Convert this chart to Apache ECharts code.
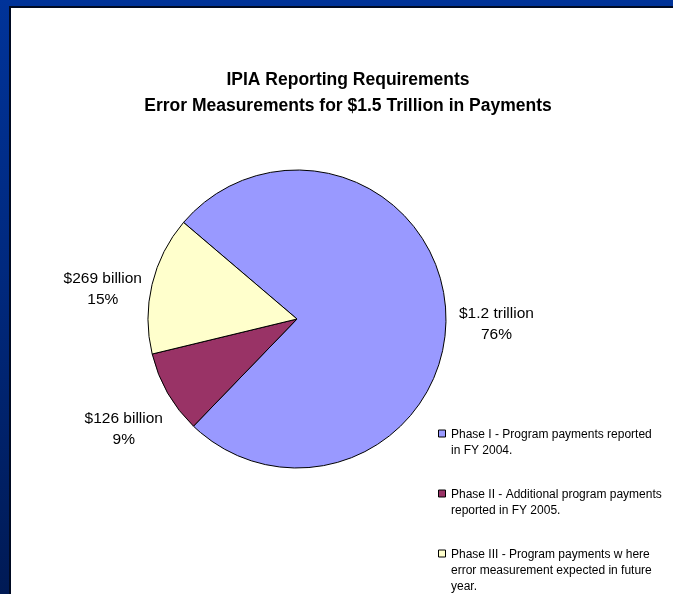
<!DOCTYPE html>
<html>
<head>
<meta charset="utf-8">
<script src="https://cdn.jsdelivr.net/npm/echarts@6/dist/echarts.min.js"></script>
<style>
  html, body { margin: 0; padding: 0; width: 673px; height: 594px; overflow: hidden; }
  body { background: linear-gradient(to bottom, #003399 0%, #00297f 45%, #001a55 100%); position: relative; }
  #panel { position: absolute; left: 9px; top: 6px; width: 662px; height: 588px; background: #ffffff;
           border-left: 2px solid #000a22; border-top: 2px solid #000a22; }
  #chart { position: absolute; left: 0; top: 0; width: 673px; height: 594px; }
</style>
</head>
<body>
<div id="panel"></div>
<div id="chart"></div>
<script>
// ---- data ----
var titleLines = ['IPIA Reporting Requirements', 'Error Measurements for $1.5 Trillion in Payments'];
var categories = [
  'Phase I - Program payments reported\nin FY 2004.',
  'Phase II - Additional program payments\nreported in FY 2005.',
  'Phase III - Program payments w here\nerror measurement expected in future\nyear.'
];
var percentValues = [76, 9, 15];
var amountLabels = ['$1.2 trillion', '$126 billion', '$269 billion'];
var sliceColors = ['#9999FF', '#993366', '#FFFFCC'];

var chart = echarts.init(document.getElementById('chart'), null, { renderer: 'canvas' });

var FONT = "'Liberation Sans', Arial, sans-serif";
var lineH = 16;
var legendLeft = 438, legendTop = 433, legendStep = 60;

// legend drawn as graphic elements built from the category / colour arrays
var legendGraphics = [];
categories.forEach(function (name, i) {
  var cy = legendTop + i * legendStep;
  legendGraphics.push({
    type: 'rect', left: legendLeft, top: cy - 3.5, silent: true,
    shape: { width: 7, height: 7 },
    style: { fill: sliceColors[i], stroke: '#000', lineWidth: 1 }
  });
  legendGraphics.push({
    type: 'text', left: legendLeft + 13, top: cy - lineH / 2 + 1.5, silent: true,
    style: { text: name, font: '12px ' + FONT, lineHeight: lineH, fill: '#000' }
  });
});

var pieData = categories.map(function (name, i) {
  return { name: name, value: percentValues[i], itemStyle: { color: sliceColors[i] } };
});

var option = {
  backgroundColor: 'transparent',
  animation: false,
  title: {
    text: titleLines.join('\n'),
    left: 348,
    top: 67,
    textAlign: 'center',
    padding: 0,
    textStyle: { fontFamily: FONT, fontSize: 17.5, fontWeight: 'bold', color: '#000', lineHeight: 26 }
  },
  graphic: legendGraphics,
  series: [{
    type: 'pie',
    center: [297, 319],
    radius: 149,
    startAngle: 139.6,
    clockwise: true,
    data: pieData,
    itemStyle: { borderColor: '#000', borderWidth: 1 },
    emphasis: { disabled: true },
    labelLine: { show: false },
    label: {
      show: true,
      position: 'outside',
      fontFamily: FONT,
      fontSize: 15.5,
      lineHeight: 21,
      color: '#000',
      formatter: function (p) {
        return amountLabels[p.dataIndex] + '\n' + percentValues[p.dataIndex] + '%';
      }
    },
    labelLayout: function (p) {
      var lay = chart.getModel().getSeriesByIndex(0).getData().getItemLayout(p.dataIndex);
      var mid = (lay.startAngle + lay.endAngle) / 2;
      return {
        x: lay.cx + lay.r * 1.34 * Math.cos(mid),
        y: lay.cy + lay.r * 1.29 * Math.sin(mid) + 15,
        align: 'center',
        verticalAlign: 'middle'
      };
    }
  }]
};
chart.setOption(option);
</script>
</body>
</html>
